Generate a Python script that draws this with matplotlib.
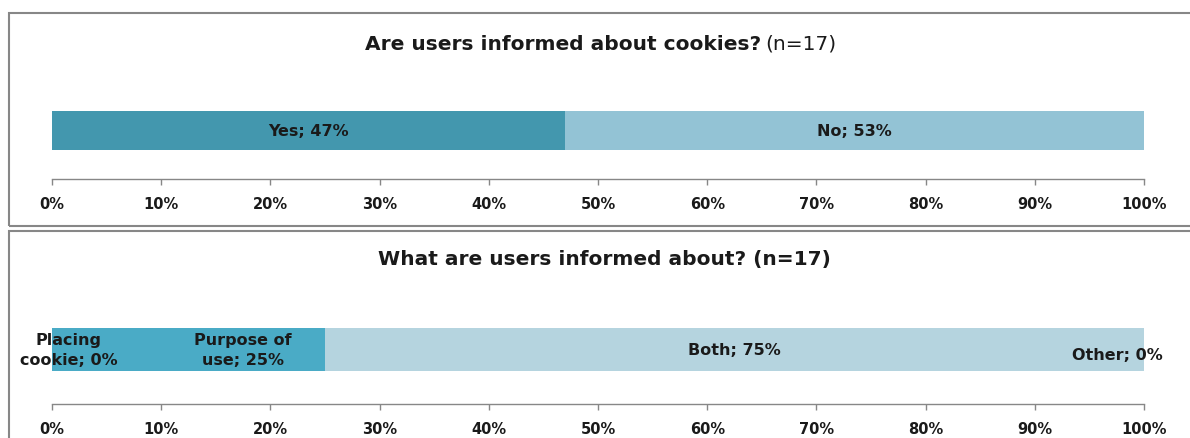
import matplotlib
matplotlib.use("Agg")
import matplotlib.pyplot as plt
from matplotlib.patches import Rectangle
from matplotlib.ticker import PercentFormatter

plt.rcParams['font.family'] = ['DejaVu Sans']

# top chart data
top_labels = ['Yes', 'No']
top_values = [47, 53]
top_colors = ['#4397ae', '#93c3d5']

# bottom chart data
bot_labels = ['Placing\ncookie', 'Purpose of\nuse', 'Both', 'Other']
bot_values = [0, 25, 75, 0]
bot_colors = ['#4aabc6', '#4aabc6', '#b5d4df', '#b5d4df']
# where the data labels sit relative to the segment centre (percent points)
bot_label_shift = [1.5, 5.0, 0.0, -2.4]
bot_label_dy = [0.0, 0.0, 0.0, -0.12]

ticks = [i / 10 for i in range(11)]

W, H = 1190, 439
fig = plt.figure(figsize=(W / 100, H / 100), dpi=100)
border = '#878787'
ink = '#1a1a1a'


def fx(px):
    return px / W


def fy(py):
    return 1 - py / H


# panel frames
fig.patches.append(Rectangle((fx(9), fy(227)), fx(1200), fy(14) - fy(227),
                             transform=fig.transFigure, fill=False,
                             edgecolor=border, linewidth=1.5))
fig.patches.append(Rectangle((fx(9), fy(460)), fx(1200), fy(232) - fy(460),
                             transform=fig.transFigure, fill=False,
                             edgecolor=border, linewidth=1.5))


def setup_axis(ax):
    ax.set_xlim(0, 1)
    ax.set_xticks(ticks)
    ax.xaxis.set_major_formatter(PercentFormatter(1.0, decimals=0))
    for s in ['top', 'left', 'right']:
        ax.spines[s].set_visible(False)
    ax.spines['bottom'].set_color(border)
    ax.spines['bottom'].set_linewidth(1.0)
    ax.set_yticks([])
    ax.tick_params(axis='x', direction='out', length=4.5, width=1,
                   color=border, pad=7.5, labelsize=10.5)
    for t in ax.get_xticklabels():
        t.set_fontweight('bold')
        t.set_color(ink)
    ax.patch.set_visible(False)


def title_two_part(y_px, bold_part, plain_part, size=14.5):
    r = fig.canvas.get_renderer()
    t1 = fig.text(0, fy(y_px), bold_part, fontsize=size, fontweight='bold',
                  va='center', ha='left', color=ink)
    t2 = fig.text(0, fy(y_px), plain_part, fontsize=size,
                  va='center', ha='left', color=ink)
    w1 = t1.get_window_extent(r).width
    w2 = t2.get_window_extent(r).width
    gap = 4
    start = 601 - (w1 + gap + w2) / 2
    t1.set_x(fx(start))
    t2.set_x(fx(start + w1 + gap))


# ---- top chart
ax1 = fig.add_axes([fx(52), fy(180), fx(1092), fy(112) - fy(180)])
bar_h = 151 - 112
ax1.set_ylim(-0.5 - (180 - 151) / bar_h, 0.5)
left = 0
for lab, v, c in zip(top_labels, top_values, top_colors):
    ax1.barh(0, v / 100, left=left, height=1.0, color=c, edgecolor='none')
    ax1.text(left + v / 200, 0, f'{lab}; {v}%', ha='center', va='center',
             fontsize=11.5, fontweight='bold', color=ink)
    left += v / 100
setup_axis(ax1)
title_two_part(44, 'Are users informed about cookies?', '(n=17)')

# ---- bottom chart
ax2 = fig.add_axes([fx(52), fy(405), fx(1092), fy(329) - fy(405)])
bar_h2 = 372 - 329
ax2.set_ylim(-0.5 - (405 - 372) / bar_h2, 0.5)
left = 0
for lab, v, c, sh, dy in zip(bot_labels, bot_values, bot_colors,
                             bot_label_shift, bot_label_dy):
    ax2.barh(0, v / 100, left=left, height=1.0, color=c, edgecolor='none')
    ax2.text(left + v / 200 + sh / 100, dy, f'{lab}; {v}%', ha='center',
             va='center', fontsize=11.5, fontweight='bold', color=ink,
             linespacing=1.35)
    left += v / 100
setup_axis(ax2)
fig.text(fx(604), fy(260), 'What are users informed about? (n=17)', fontsize=14.5,
         fontweight='bold', ha='center', va='center', color=ink)

fig.savefig('out.png', dpi=100)
